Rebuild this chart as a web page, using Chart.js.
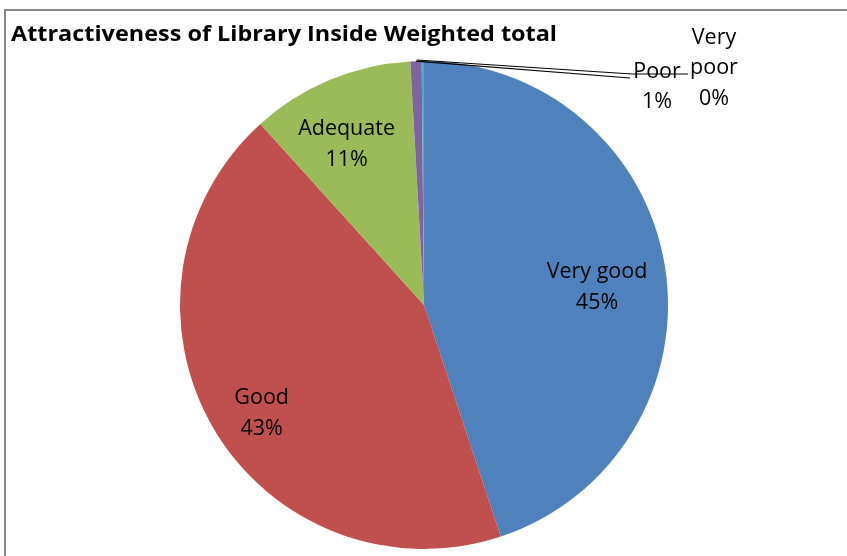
<!DOCTYPE html>
<html>
<head>
<meta charset="utf-8">
<script src="https://cdn.jsdelivr.net/npm/chart.js@4.4.1/dist/chart.umd.min.js"></script>
<style>
  html, body { margin: 0; padding: 0; background: #fff; }
  #wrap { width: 847px; height: 556px; position: relative; }
</style>
</head>
<body>
<div id="wrap"><canvas id="myChart" width="847" height="556"></canvas></div>
<script>
const chartTitle = 'Attractiveness of Library Inside Weighted total';
const categories = ['Very good', 'Good', 'Adequate', 'Poor', 'Very poor'];
const weightedShare = [44.9, 43.4, 10.8, 0.75, 0.15];
const sliceColors = ['#4F81BD', '#C0504D', '#9BBB59', '#8064A2', '#4BACC6'];

const FONT = '"Open Sans", Lato, sans-serif';

// draws text squeezed/stretched to a target width
function fitText(ctx, text, x, y, width) {
  const w = ctx.measureText(text).width;
  ctx.save();
  ctx.translate(x, y);
  ctx.scale(width / w, 1);
  ctx.fillText(text, 0, 0);
  ctx.restore();
}

// frame + title + slice labels drawn over the pie
const decorations = {
  id: 'decorations',
  afterDraw(chart) {
    const ctx = chart.ctx;
    const arcs = chart.getDatasetMeta(0).data;
    const total = weightedShare.reduce((a, b) => a + b, 0);
    const pct = weightedShare.map(v => Math.round(v / total * 100) + '%');

    ctx.save();
    // outer frame (only top/left edges fall inside the picture)
    ctx.strokeStyle = '#8a8a8a';
    ctx.lineWidth = 2;
    ctx.strokeRect(5, 10, 900, 600);

    ctx.fillStyle = '#000';
    ctx.font = 'bold 22px ' + FONT;
    ctx.textAlign = 'left';
    ctx.textBaseline = 'middle';
    fitText(ctx, chartTitle, 11, 35, 546);

    // labels inside the big slices
    ctx.font = '21.5px ' + FONT;
    ctx.textAlign = 'center';
    const radial = [0.71, 0.77, 0.77];
    const nudge = [[2, 3], [0, 6], [-5, 5]];
    for (let i = 0; i < 3; i++) {
      const a = arcs[i];
      const mid = (a.startAngle + a.endAngle) / 2;
      const r = a.outerRadius * radial[i];
      const x = a.x + Math.cos(mid) * r + nudge[i][0];
      const y = a.y + Math.sin(mid) * r + 7 + nudge[i][1];
      ctx.fillText(categories[i], x, y - 15);
      ctx.fillText(pct[i], x, y + 16);
    }

    // small slices: outside labels with leader lines
    const edge = (i) => {
      const a = arcs[i];
      const mid = (a.startAngle + a.endAngle) / 2;
      return [a.x + Math.cos(mid) * a.outerRadius, a.y + Math.sin(mid) * a.outerRadius];
    };
    ctx.strokeStyle = '#000';
    ctx.lineWidth = 1.2;
    let [px, py] = edge(3);
    ctx.beginPath();
    ctx.moveTo(px, py);
    ctx.lineTo(630, 78);
    ctx.stroke();
    [px, py] = edge(4);
    ctx.beginPath();
    ctx.moveTo(px - 6, py - 1);
    ctx.lineTo(632, 74);
    ctx.lineTo(688, 74);
    ctx.stroke();

    ctx.fillText(categories[3], 657, 72);
    ctx.fillText(pct[3], 657, 102);
    ctx.fillText('Very', 714, 38);
    ctx.fillText('poor', 714, 68);
    ctx.fillText(pct[4], 714, 99);
    ctx.restore();
  }
};

const ctx = document.getElementById('myChart');
new Chart(ctx, {
  type: 'pie',
  data: {
    labels: categories,
    datasets: [{
      data: weightedShare,
      backgroundColor: sliceColors,
      borderWidth: 0
    }]
  },
  options: {
    responsive: false,
    animation: false,
    layout: { padding: { top: 61, bottom: 7, left: 180, right: 179 } },
    plugins: {
      legend: { display: false },
      tooltip: { enabled: false },
      title: { display: false }
    }
  },
  plugins: [decorations]
});
</script>
</body>
</html>
